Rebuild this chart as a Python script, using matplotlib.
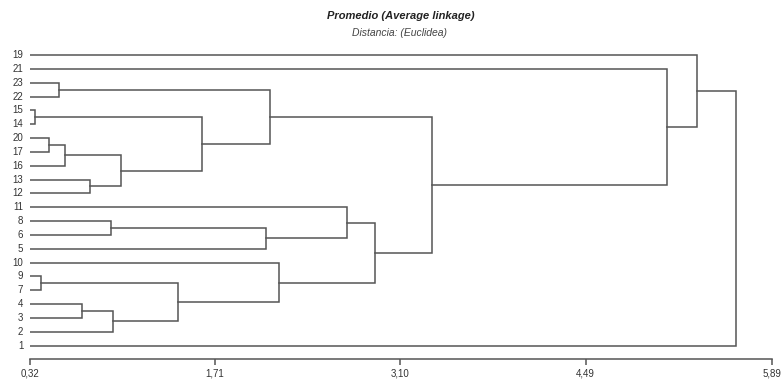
import matplotlib
matplotlib.use('Agg')
import matplotlib.pyplot as plt

plt.rcParams['font.family'] = ['Liberation Sans', 'DejaVu Sans']

# Orden de las hojas (de arriba hacia abajo)
hojas = ['19', '21', '23', '22', '15', '14', '20', '17', '16', '13', '12',
         '11', '8', '6', '5', '10', '9', '7', '4', '3', '2', '1']

# Uniones: (grupo A, grupo B, distancia) -> nombre del nuevo grupo
uniones = [
    ('15', '14', 0.355, 'g1'),
    ('9', '7', 0.40, 'g2'),
    ('20', '17', 0.46, 'g3'),
    ('23', '22', 0.54, 'g4'),
    ('g3', '16', 0.58, 'g5'),
    ('4', '3', 0.71, 'g6'),
    ('13', '12', 0.77, 'g7'),
    ('8', '6', 0.93, 'g8'),
    ('g6', '2', 0.94, 'g9'),
    ('g5', 'g7', 1.00, 'g10'),
    ('g2', 'g9', 1.43, 'g11'),
    ('g1', 'g10', 1.61, 'g12'),
    ('g8', '5', 2.09, 'g13'),
    ('g4', 'g12', 2.12, 'g14'),
    ('10', 'g11', 2.19, 'g15'),
    ('11', 'g13', 2.70, 'g16'),
    ('g16', 'g15', 2.91, 'g17'),
    ('g14', 'g17', 3.34, 'g18'),
    ('21', 'g18', 5.10, 'g19'),
    ('19', 'g19', 5.33, 'g20'),
    ('g20', '1', 5.62, 'g21'),
]

ticks = [0.32, 1.71, 3.10, 4.49, 5.89]
tick_labels = ['0,32', '1,71', '3,10', '4,49', '5,89']
x_min = 0.32

color = '#555555'

fig = plt.figure(figsize=(7.83, 3.80), dpi=100)
ax = fig.add_axes([30 / 783, 1 - 359 / 380, 742 / 783, 314 / 380])

n = len(hojas)
pos = {h: (x_min, n - i) for i, h in enumerate(hojas)}

for a, b, d, nuevo in uniones:
    xa, ya = pos[a]
    xb, yb = pos[b]
    ax.plot([xa, d, d, xb], [ya, ya, yb, yb], color=color, lw=1.1,
            solid_joinstyle='miter')
    pos[nuevo] = (d, (ya + yb) / 2)

for i, h in enumerate(hojas):
    ax.text(x_min - 0.05, n - i, h, ha='right', va='center', fontsize=7,
            color='#333333')

ax.set_xlim(x_min, 5.89)
ax.set_ylim(0.04, n + 0.72)
ax.set_xticks(ticks)
ax.set_xticklabels(tick_labels, fontsize=7, color='#333333')
ax.set_yticks([])
for s in ['top', 'right', 'left']:
    ax.spines[s].set_visible(False)
ax.spines['bottom'].set_color(color)
ax.spines['bottom'].set_linewidth(1.1)
ax.tick_params(axis='x', length=4, width=1.1, color=color, pad=2.5)

fig.text(401 / 783, 1 - 16 / 380, 'Promedio (Average linkage)', ha='center',
         va='center', fontsize=8, fontweight='bold', style='italic',
         color='#222222')
fig.text(400 / 783, 1 - 33 / 380, 'Distancia: (Euclidea)', ha='center',
         va='center', fontsize=7.5, style='italic', color='#444444')

fig.savefig('out.png', dpi=100)
